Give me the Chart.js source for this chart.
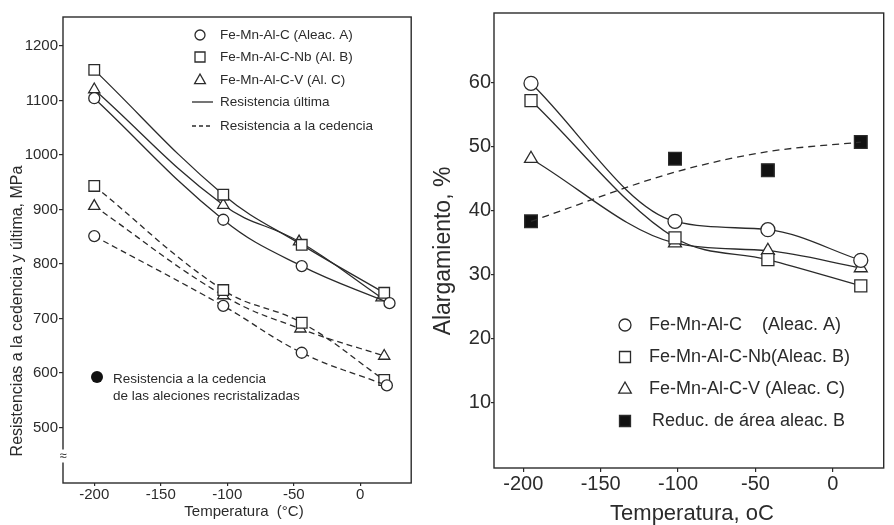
<!DOCTYPE html>
<html lang="es">
<head>
<meta charset="utf-8">
<script src="https://cdn.jsdelivr.net/npm/chart.js@4.4.0/dist/chart.umd.min.js"></script>
<style>
    html, body { margin: 0; padding: 0; background: #fff; }
    .panel { position: absolute; top: 0; }
    #panel-izq { left: 0; width: 420px; height: 525px; }
    #panel-der { left: 420px; width: 474px; height: 525px; }
</style>
</head>
<body>
<div class="panel" id="panel-izq"><canvas id="chart-resistencia" width="420" height="525"></canvas></div>
<div class="panel" id="panel-der"><canvas id="chart-alargamiento" width="474" height="525"></canvas></div>
<script>
// Panel izquierdo: resistencias (MPa) vs temperatura (°C)
const tempUltA = [-200, -103, -44, 22];
const ultA = [1104, 881, 796, 728];
const tempUltB = [-200, -103, -44, 18];
const ultB = [1156, 927, 835, 747];
const tempUltC = [-200, -103, -46, 16];
const ultC = [1120, 908, 841, 738];

const tempCedA = [-200, -103, -44, 20];
const cedA = [851, 723, 637, 577];
const tempCedB = [-200, -103, -44, 18];
const cedB = [943, 752, 692, 587];
const tempCedC = [-200, -103, -45, 18];
const cedC = [906, 742, 681, 631];

const ticksResX = [-200, -150, -100, -50, 0];
const ticksResY = [500, 600, 700, 800, 900, 1000, 1100, 1200];

// Panel derecho: alargamiento (%) vs temperatura
const tempAlarg = [-195, -102, -42, 18];
const alargA = [59.9, 38.3, 37.0, 32.2];
const alargB = [57.2, 35.7, 32.3, 28.2];
const alargC = [48.1, 34.9, 33.7, 31.0];
const reducB = [38.3, 48.1, 46.3, 50.7];
const reducBCurva = [38.3, 46.0, 49.2, 50.7];

const ticksAlargX = [-200, -150, -100, -50, 0];
const ticksAlargY = [10, 20, 30, 40, 50, 60];

const FUENTE = "'Liberation Sans', Arial, sans-serif";
const TINTA = '#2b2b2b';

/**
 * Convertir dos listas en puntos {x, y}
 */
function puntos(xs, ys) {
    return xs.map((x, i) => ({ x: x, y: ys[i] }));
}

/**
 * Crear una serie con línea suavizada y marcadores
 */
function serie(xs, ys, estilo, radio, discontinua, relleno) {
    return {
        data: puntos(xs, ys),
        showLine: true,
        borderColor: TINTA,
        borderWidth: 1.3,
        borderDash: discontinua ? [6, 4] : [],
        tension: 0.4,
        pointStyle: estilo,
        pointRadius: radio,
        pointBorderWidth: 1.3,
        pointBorderColor: TINTA,
        pointBackgroundColor: relleno || '#fff'
    };
}

/**
 * Dibujar un símbolo de leyenda
 */
function simbolo(ctx, s) {
    ctx.beginPath();
    ctx.setLineDash([]);
    ctx.lineWidth = 1.3;
    ctx.strokeStyle = TINTA;
    ctx.fillStyle = '#fff';
    if (s.tipo === 'circle') {
        ctx.arc(s.x, s.y, s.r, 0, Math.PI * 2);
        ctx.fill(); ctx.stroke();
    } else if (s.tipo === 'rect' || s.tipo === 'rectFill') {
        ctx.rect(s.x - s.r, s.y - s.r, s.r * 2, s.r * 2);
        if (s.tipo === 'rectFill') { ctx.fillStyle = '#111'; }
        ctx.fill(); ctx.stroke();
    } else if (s.tipo === 'triangle') {
        ctx.moveTo(s.x, s.y - s.r);
        ctx.lineTo(s.x + s.r * 0.9, s.y + s.r * 0.6);
        ctx.lineTo(s.x - s.r * 0.9, s.y + s.r * 0.6);
        ctx.closePath();
        ctx.fill(); ctx.stroke();
    } else if (s.tipo === 'dot') {
        ctx.arc(s.x, s.y, s.r, 0, Math.PI * 2);
        ctx.fillStyle = '#111';
        ctx.fill();
    } else if (s.tipo === 'linea' || s.tipo === 'guiones') {
        if (s.tipo === 'guiones') { ctx.setLineDash([4, 3]); }
        ctx.moveTo(s.x, s.y);
        ctx.lineTo(s.x2, s.y);
        ctx.stroke();
    }
}

// Plugin: marco, títulos y leyendas dibujados a mano
const decorado = {
    id: 'decorado',
    afterDraw(chart, args, opts) {
        const ctx = chart.ctx;
        const a = chart.chartArea;
        ctx.save();
        ctx.strokeStyle = TINTA;
        ctx.lineWidth = 1.4;
        ctx.strokeRect(a.left, a.top, a.right - a.left, a.bottom - a.top);

        (opts.simbolos || []).forEach(s => simbolo(ctx, s));

        ctx.fillStyle = TINTA;
        (opts.textos || []).forEach(t => {
            ctx.save();
            ctx.font = t.size + 'px ' + FUENTE;
            ctx.textAlign = t.align || 'left';
            ctx.textBaseline = 'middle';
            ctx.translate(t.x, t.y);
            if (t.rot) { ctx.rotate(t.rot); }
            if (t.fondo) {
                const w = ctx.measureText(t.txt).width;
                ctx.fillStyle = '#fff';
                ctx.fillRect(-w / 2, -t.size / 2, w, t.size);
                ctx.fillStyle = TINTA;
            }
            ctx.fillText(t.txt, 0, 0);
            ctx.restore();
        });
        ctx.restore();
    }
};

/**
 * Opciones comunes de un eje
 */
function eje(min, max, ticks, fuente, largo, relleno, ajuste) {
    return {
        type: 'linear',
        min: min,
        max: max,
        afterBuildTicks: s => { s.ticks = ticks.map(v => ({ value: v })); },
        afterFit: ajuste,
        border: { display: false },
        grid: {
            drawOnChartArea: false,
            drawTicks: true,
            tickLength: largo,
            color: TINTA,
            lineWidth: 1.2
        },
        ticks: {
            autoSkip: false,
            maxRotation: 0,
            padding: relleno,
            color: TINTA,
            font: { family: FUENTE, size: fuente },
            callback: v => String(v)
        }
    };
}

function renderizarResistencia() {
    const ctx = document.getElementById('chart-resistencia').getContext('2d');
    new Chart(ctx, {
        type: 'scatter',
        data: {
            datasets: [
                serie(tempUltA, ultA, 'circle', 5.5, false),
                serie(tempUltB, ultB, 'rect', 7.5, false),
                serie(tempUltC, ultC, 'triangle', 6.5, false),
                serie(tempCedA, cedA, 'circle', 5.5, true),
                serie(tempCedB, cedB, 'rect', 7.5, true),
                serie(tempCedC, cedC, 'triangle', 6.5, true)
            ]
        },
        options: {
            responsive: false,
            animation: false,
            layout: { padding: { top: 17, right: 8, left: 0, bottom: 0 } },
            plugins: {
                legend: { display: false },
                tooltip: { enabled: false },
                decorado: {
                    simbolos: [
                        { tipo: 'circle', x: 200, y: 35, r: 5 },
                        { tipo: 'rect', x: 200, y: 57, r: 5 },
                        { tipo: 'triangle', x: 200, y: 80, r: 6 },
                        { tipo: 'linea', x: 192, x2: 213, y: 102 },
                        { tipo: 'guiones', x: 192, x2: 213, y: 126 },
                        { tipo: 'dot', x: 97, y: 377, r: 6 }
                    ],
                    textos: [
                        { txt: 'Fe-Mn-Al-C (Aleac. A)', x: 220, y: 35, size: 13.5 },
                        { txt: 'Fe-Mn-Al-C-Nb (Al. B)', x: 220, y: 57, size: 13.5 },
                        { txt: 'Fe-Mn-Al-C-V (Al. C)', x: 220, y: 80, size: 13.5 },
                        { txt: 'Resistencia última', x: 220, y: 102, size: 13.5 },
                        { txt: 'Resistencia a la cedencia', x: 220, y: 126, size: 13.5 },
                        { txt: 'Resistencia a la cedencia', x: 113, y: 379, size: 13.5 },
                        { txt: 'de las aleciones recristalizadas', x: 113, y: 396, size: 13.5 },
                        { txt: 'Resistencias a la cedencia y última, MPa', x: 18, y: 311, size: 16, align: 'center', rot: -Math.PI / 2 },
                        { txt: 'Temperatura  (°C)', x: 244, y: 512, size: 15, align: 'center' },
                        { txt: '≈', x: 63, y: 456, size: 13, align: 'center', fondo: true }
                    ]
                }
            },
            scales: {
                x: eje(-223.5, 38.3, ticksResX, 15, 3, 0, s => { s.height = 42; }),
                y: eje(398, 1253, ticksResY, 15, 4, 1, s => { s.width = 63; })
            }
        },
        plugins: [decorado]
    });
}

function renderizarAlargamiento() {
    const ctx = document.getElementById('chart-alargamiento').getContext('2d');
    const curva = serie(tempAlarg, reducBCurva, 'circle', 0, true);
    curva.borderDash = [7, 5];
    const reduccion = serie(tempAlarg, reducB, 'rect', 9, false, '#111');
    reduccion.showLine = false;
    const series = [
        curva,
        reduccion,
        serie(tempAlarg, alargA, 'circle', 7, false),
        serie(tempAlarg, alargB, 'rect', 8.5, false),
        serie(tempAlarg, alargC, 'triangle', 7.5, false)
    ];
    // Curvas suaves sin ondulaciones
    series.forEach(d => { d.cubicInterpolationMode = 'monotone'; });
    new Chart(ctx, {
        type: 'scatter',
        data: { datasets: series },
        options: {
            responsive: false,
            animation: false,
            layout: { padding: { top: 13, right: 1, left: 0, bottom: 0 } },
            plugins: {
                legend: { display: false },
                tooltip: { enabled: false },
                decorado: {
                    simbolos: [
                        { tipo: 'circle', x: 205, y: 325, r: 6 },
                        { tipo: 'rect', x: 205, y: 357, r: 5.5 },
                        { tipo: 'triangle', x: 205, y: 389, r: 7 },
                        { tipo: 'rectFill', x: 205, y: 421, r: 5.5 }
                    ],
                    textos: [
                        { txt: 'Fe-Mn-Al-C', x: 229, y: 325, size: 18 },
                        { txt: '(Aleac. A)', x: 342, y: 325, size: 18 },
                        { txt: 'Fe-Mn-Al-C-Nb(Aleac. B)', x: 229, y: 357, size: 18 },
                        { txt: 'Fe-Mn-Al-C-V (Aleac. C)', x: 229, y: 389, size: 18 },
                        { txt: 'Reduc. de área aleac. B', x: 232, y: 421, size: 18 },
                        { txt: 'Alargamiento, %', x: 24, y: 251, size: 23, align: 'center', rot: -Math.PI / 2 },
                        { txt: 'Temperatura, oC', x: 272, y: 514, size: 22, align: 'center' }
                    ]
                }
            },
            scales: {
                x: eje(-218.9, 32.8, ticksAlargX, 20, 4, 0, s => { s.height = 57; }),
                y: eje(-0.3, 70.9, ticksAlargY, 20, 3, 0, s => { s.width = 74; })
            }
        },
        plugins: [decorado]
    });
}

renderizarResistencia();
renderizarAlargamiento();
</script>
</body>
</html>
